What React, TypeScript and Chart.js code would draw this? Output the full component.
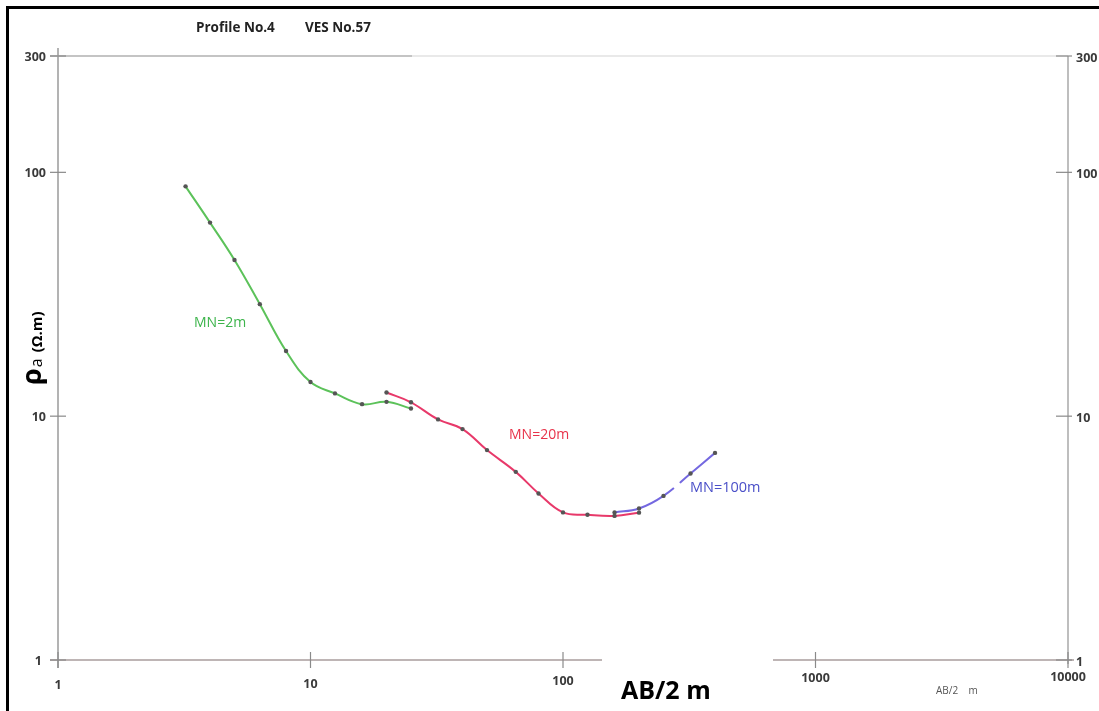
import React, { useEffect, useRef } from "react";
import { Chart, registerables } from "chart.js";

Chart.register(...registerables);

// AB/2 (m) and apparent resistivity (ohm.m)
const abMN2 = [3.2, 4, 5, 6.3, 8, 10, 12.5, 16, 20, 25];
const rhoMN2 = [87.6, 62.2, 43.7, 28.8, 18.5, 13.8, 12.4, 11.2, 11.45, 10.75];

const abMN20 = [20, 25, 32, 40, 50, 65, 80, 100, 125, 160, 200];
const rhoMN20 = [12.5, 11.4, 9.7, 8.85, 7.26, 5.91, 4.82, 4.03, 3.94, 3.9, 4.02];

const abMN100 = [160, 200, 250, 320, 400];
const rhoMN100 = [4.03, 4.18, 4.71, 5.82, 7.07];

const xTicks = [1, 10, 100, 1000, 10000];
const xTickLabelY = [685, 684, 681, 678, 677];
const yTicks = [1, 10, 100, 300];

const seriesLabels = ["MN=2m", "MN=20m", "MN=100m"];
const titleLeft = "Profile No.4";
const titleRight = "VES No.57";

const FONT = "'Open Sans', 'Liberation Sans', sans-serif";

const toPoints = (xs: number[], ys: number[]) => xs.map((x, i) => ({ x, y: ys[i] }));

const decorPlugin = {
  id: "decor",
  beforeDatasetsDraw(chart: any) {
    const { ctx, scales } = chart;
    const xs = scales.x;
    const ys = scales.y;
    const L = xs.getPixelForValue(1);
    const R = xs.getPixelForValue(10000);
    const T = ys.getPixelForValue(300);
    const B = ys.getPixelForValue(1);
    ctx.save();
    // outer black frame
    ctx.strokeStyle = "#000";
    ctx.lineWidth = 3;
    ctx.beginPath();
    ctx.moveTo(7.5, 711);
    ctx.lineTo(7.5, 7.5);
    ctx.lineTo(1099, 7.5);
    ctx.stroke();

    // axis box
    ctx.lineWidth = 1.5;
    ctx.strokeStyle = "#9a9a9a";
    ctx.beginPath();
    ctx.moveTo(L, T - 8);
    ctx.lineTo(L, B + 8);
    ctx.stroke();
    ctx.strokeStyle = "#a89c9c";
    ctx.beginPath();
    ctx.moveTo(L - 8, B);
    ctx.lineTo(R + 6, B);
    ctx.stroke();
    ctx.strokeStyle = "#b0b0b0";
    ctx.beginPath();
    ctx.moveTo(L - 8, T);
    ctx.lineTo(412, T);
    ctx.stroke();
    ctx.strokeStyle = "#e2e2e2";
    ctx.beginPath();
    ctx.moveTo(412, T);
    ctx.lineTo(R, T);
    ctx.stroke();
    ctx.strokeStyle = "#a8a8a8";
    ctx.beginPath();
    ctx.moveTo(R, T);
    ctx.lineTo(R, B + 4);
    ctx.stroke();

    // ticks
    ctx.strokeStyle = "#8a8a8a";
    ctx.lineWidth = 1.2;
    xTicks.forEach((v) => {
      const px = xs.getPixelForValue(v);
      ctx.beginPath();
      ctx.moveTo(px, B - 8);
      ctx.lineTo(px, B + 8);
      ctx.stroke();
    });
    yTicks.forEach((v) => {
      const py = ys.getPixelForValue(v);
      ctx.beginPath();
      ctx.moveTo(L - 8, py);
      ctx.lineTo(L + 8, py);
      ctx.stroke();
      ctx.beginPath();
      ctx.moveTo(R - 12, py);
      ctx.lineTo(R + 4, py);
      ctx.stroke();
    });

    // white patch under big axis label
    ctx.fillStyle = "#fff";
    ctx.fillRect(602, B - 5, 171, 711 - (B - 5));

    // tick labels
    ctx.fillStyle = "#3a3a3a";
    ctx.font = `bold 12.5px ${FONT}`;
    ctx.textBaseline = "middle";
    ctx.textAlign = "right";
    yTicks.forEach((v) => {
      const py = ys.getPixelForValue(v);
      ctx.fillText(String(v), v === 1 ? 42 : 46, py + 1);
    });
    ctx.textAlign = "left";
    yTicks.forEach((v) => {
      const py = ys.getPixelForValue(v);
      ctx.fillText(String(v), R + 8, py + 2);
    });
    ctx.textAlign = "center";
    xTicks.forEach((v, i) => {
      const px = xs.getPixelForValue(v);
      ctx.fillText(String(v), px, xTickLabelY[i]);
    });

    // title
    ctx.fillStyle = "#222";
    ctx.font = `bold 13.5px ${FONT}`;
    ctx.textAlign = "left";
    ctx.fillText(titleLeft, 196, 28);
    ctx.fillText(titleRight, 305, 28);

    // big x label
    ctx.fillStyle = "#000";
    ctx.font = `bold 25px ${FONT}`;
    ctx.textAlign = "left";
    ctx.fillText("AB/2 m", 621, 692);

    // small x label
    ctx.fillStyle = "#555";
    ctx.font = `10px ${FONT}`;
    ctx.fillText("AB/2    m", 936, 691);

    // y title rotated
    ctx.save();
    ctx.translate(41, 385);
    ctx.rotate(-Math.PI / 2);
    ctx.textBaseline = "alphabetic";
    ctx.fillStyle = "#000";
    ctx.font = `bold 27px ${FONT}`;
    ctx.fillText("ρ", 0, 0);
    const w = ctx.measureText("ρ").width;
    ctx.font = `16px ${FONT}`;
    ctx.fillText("a", w + 1, 1);
    ctx.font = `bold 15px ${FONT}`;
    ctx.fillText("(Ω.m)", w + 16, 1);
    ctx.restore();

    // series labels
    ctx.textBaseline = "middle";
    ctx.textAlign = "left";
    ctx.font = `14px ${FONT}`;
    ctx.fillStyle = "#3cb44b";
    ctx.fillText(seriesLabels[0], 194, 323);
    ctx.fillStyle = "#e8334a";
    ctx.fillText(seriesLabels[1], 509, 435);
    ctx.font = `14.5px ${FONT}`;
    ctx.fillStyle = "#4a4fc8";
    ctx.fillText(seriesLabels[2], 690, 488);

    ctx.restore();
  },
};

export default function App() {
  const ref = useRef<HTMLCanvasElement>(null);
  useEffect(() => {
    if (!ref.current) return;
    const pointStyle = {
      pointRadius: 2.2,
      pointBackgroundColor: "#555",
      pointBorderWidth: 0,
      borderWidth: 2,
      tension: 0.4,
    };
    const chart = new Chart(ref.current, {
      type: "line",
      data: {
        datasets: [
          {
            label: seriesLabels[0],
            data: toPoints(abMN2, rhoMN2),
            borderColor: "#5cc25a",
            ...pointStyle,
          },
          {
            label: seriesLabels[1],
            data: toPoints(abMN20, rhoMN20),
            borderColor: "#e8396a",
            ...pointStyle,
          },
          {
            label: seriesLabels[2],
            data: toPoints(abMN100, rhoMN100),
            borderColor: "#7468e0",
            segment: {
              borderDash: (c: any) => (c.p0DataIndex === 2 ? [13, 8, 200, 0] : []),
            },
            ...pointStyle,
          },
        ],
      },
      options: {
        responsive: false,
        animation: false,
        devicePixelRatio: 1,
        layout: { padding: { left: 58, right: 31, top: 56, bottom: 51 } },
        scales: {
          x: { type: "logarithmic", min: 1, max: 10000, display: false },
          y: { type: "logarithmic", min: 1, max: 300, display: false },
        },
        plugins: {
          legend: { display: false },
          tooltip: { enabled: false },
        },
      },
      plugins: [decorPlugin],
    } as any);
    return () => chart.destroy();
  }, []);
  return (
    <div style={{ position: "fixed", left: 0, top: 0, width: 1099, height: 711, background: "#fff" }}>
      <canvas ref={ref} width={1099} height={711} style={{ width: 1099, height: 711, display: "block" }} />
    </div>
  );
}
